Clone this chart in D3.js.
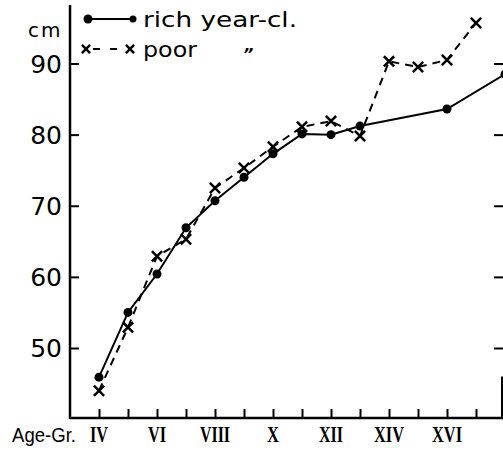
<!DOCTYPE html>
<html>
<head>
<meta charset="utf-8">
<script src="https://cdn.jsdelivr.net/npm/d3@7"></script>
<style>
  body { margin: 0; background: #fff; }
  svg { display: block; }
</style>
</head>
<body>
<div id="graph"></div>
<script>
// ages 4..18, values in cm
const richAges = [4, 5, 6, 7, 8, 9, 10, 11, 12, 13, 16, 18]
const richHeight = [45.9, 55.0, 60.4, 66.9, 70.7, 74.0, 77.3, 80.1, 80.0, 81.2, 83.6, 88.5]

const poorAges = [4, 5, 6, 7, 8, 9, 10, 11, 12, 13, 14, 15, 16, 17]
const poorHeight = [44.0, 52.9, 62.9, 65.3, 72.5, 75.3, 78.3, 81.1, 81.9, 79.8, 90.3, 89.5, 90.5, 95.7]

const yTicks = [50, 60, 70, 80, 90]
const xTickAges = [4, 5, 6, 7, 8, 9, 10, 11, 12, 13, 14, 15, 16, 17, 18]
const xLabelAges = [4, 6, 8, 10, 12, 14, 16]
const xLabels = ["IV", "VI", "VIII", "X", "XII", "XIV", "XVI"]

const width = 503
const height = 454

const svg = d3.select("#graph")
  .append("svg")
  .attr("width", width)
  .attr("height", height)

const x = d3.scaleLinear().domain([4, 17]).range([99, 476])
const y = d3.scaleLinear().domain([50, 90]).range([348, 63.5])

const axisX = 70
const baseY = 418

// left axis
const left = svg.append("g").attr("transform", "translate(" + axisX + ",0)")
  .call(d3.axisRight(y).tickValues(yTicks).tickSize(9).tickFormat(""))
left.select(".domain").remove()
left.selectAll(".tick line").attr("stroke", "#000").attr("stroke-width", 2)
svg.append("line")
  .attr("x1", axisX).attr("x2", axisX).attr("y1", 5).attr("y2", baseY + 1)
  .attr("stroke", "#000").attr("stroke-width", 2.5)

svg.append("g").selectAll("text")
  .data(yTicks).join("text")
  .attr("x", 62)
  .attr("y", d => y(d) + 9)
  .attr("text-anchor", "end")
  .attr("font-family", "DejaVu Sans")
  .attr("font-size", 25)
  .text(d => d)

svg.append("text")
  .attr("x", 28).attr("y", 37)
  .attr("font-family", "DejaVu Sans")
  .attr("font-size", 20)
  .attr("letter-spacing", 2)
  .text("cm")

// right side ticks (frame cut off by the scan)
const right = svg.append("g").attr("transform", "translate(503,0)")
  .call(d3.axisLeft(y).tickValues(yTicks).tickSize(9).tickFormat(""))
right.select(".domain").remove()
right.selectAll(".tick line").attr("stroke", "#000").attr("stroke-width", 2)
svg.append("line")
  .attr("x1", 502).attr("x2", 502).attr("y1", y(46)).attr("y2", baseY)
  .attr("stroke", "#000").attr("stroke-width", 2)

// bottom axis
const bottom = svg.append("g").attr("transform", "translate(0," + baseY + ")")
  .call(d3.axisTop(x).tickValues(xTickAges).tickSize(9).tickFormat(""))
bottom.select(".domain").remove()
bottom.selectAll(".tick line").attr("stroke", "#000").attr("stroke-width", 2)
svg.append("line")
  .attr("x1", axisX).attr("x2", width).attr("y1", baseY).attr("y2", baseY)
  .attr("stroke", "#000").attr("stroke-width", 2.5)

const glyphW = { I: 6, V: 12, X: 12 }
svg.append("g").selectAll("text")
  .data(xLabels).join("text")
  .attr("x", (d, i) => x(xLabelAges[i]))
  .attr("y", 442)
  .attr("text-anchor", "middle")
  .attr("font-family", "Liberation Serif")
  .attr("font-weight", "bold")
  .attr("font-size", 24)
  .attr("textLength", d => d.split("").reduce((s, c) => s + glyphW[c], 0))
  .attr("lengthAdjust", "spacingAndGlyphs")
  .text(d => d)

svg.append("text")
  .attr("x", 12).attr("y", 442)
  .attr("font-family", "Liberation Sans")
  .attr("font-size", 20)
  .attr("textLength", 64)
  .attr("lengthAdjust", "spacingAndGlyphs")
  .text("Age-Gr.")

// series lines
const richData = richAges.map((a, i) => ({ age: a, h: richHeight[i] }))
const poorData = poorAges.map((a, i) => ({ age: a, h: poorHeight[i] }))

const line = d3.line().x(d => x(d.age)).y(d => y(d.h))

svg.append("path").datum(poorData)
  .attr("fill", "none").attr("stroke", "#000").attr("stroke-width", 2)
  .attr("stroke-dasharray", "8,6")
  .attr("d", line)

svg.append("path").datum(richData)
  .attr("fill", "none").attr("stroke", "#000").attr("stroke-width", 2)
  .attr("d", line)

svg.append("g").selectAll("circle")
  .data(richData).join("circle")
  .attr("cx", d => x(d.age))
  .attr("cy", d => y(d.h))
  .attr("r", 4.5)
  .attr("fill", "#000")

const cross = d3.symbol().type(d3.symbolTimes).size(70)
svg.append("g").selectAll("path")
  .data(poorData).join("path")
  .attr("transform", d => "translate(" + x(d.age) + "," + y(d.h) + ")")
  .attr("d", cross)
  .attr("fill", "none")
  .attr("stroke", "#000")
  .attr("stroke-width", 2.5)

// legend
svg.append("line")
  .attr("x1", 88).attr("x2", 133).attr("y1", 19).attr("y2", 19)
  .attr("stroke", "#000").attr("stroke-width", 2)
svg.append("circle").attr("cx", 88).attr("cy", 19).attr("r", 4.5).attr("fill", "#000")
svg.append("circle").attr("cx", 133).attr("cy", 19).attr("r", 3.5).attr("fill", "#000")
svg.append("text")
  .attr("x", 143).attr("y", 27)
  .attr("font-family", "DejaVu Sans")
  .attr("font-size", 21)
  .attr("textLength", 154)
  .attr("lengthAdjust", "spacingAndGlyphs")
  .text("rich year-cl.")

svg.append("line")
  .attr("x1", 93).attr("x2", 118).attr("y1", 49).attr("y2", 49)
  .attr("stroke", "#000").attr("stroke-width", 2)
  .attr("stroke-dasharray", "7,10")
const smallCross = d3.symbol().type(d3.symbolTimes).size(45)
svg.append("path").attr("transform", "translate(86,49)").attr("d", smallCross)
  .attr("fill", "none").attr("stroke", "#000").attr("stroke-width", 2.5)
svg.append("path").attr("transform", "translate(130,49)").attr("d", smallCross)
  .attr("fill", "none").attr("stroke", "#000").attr("stroke-width", 2.5)
svg.append("text")
  .attr("x", 143).attr("y", 57)
  .attr("font-family", "DejaVu Sans")
  .attr("font-size", 21)
  .attr("textLength", 54)
  .attr("lengthAdjust", "spacingAndGlyphs")
  .text("poor")
svg.append("text")
  .attr("x", 243).attr("y", 60)
  .attr("font-family", "DejaVu Sans")
  .attr("font-weight", "bold")
  .attr("font-style", "italic")
  .attr("font-size", 16)
  .text("\u201D")
</script>
</body>
</html>
